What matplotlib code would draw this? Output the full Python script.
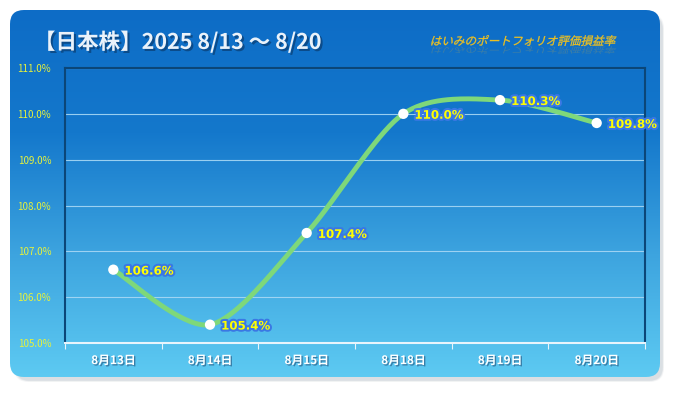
import matplotlib
matplotlib.use('Agg')
import matplotlib.pyplot as plt
import matplotlib.patheffects as pe
from matplotlib.patches import FancyBboxPatch, PathPatch
from matplotlib.textpath import TextPath
from matplotlib.font_manager import FontProperties
from matplotlib.transforms import Affine2D
from matplotlib.colors import LinearSegmentedColormap
import numpy as np

plt.rcParams['font.family'] = ['Noto Sans CJK JP', 'DejaVu Sans']

# Data
dates = ['8月13日', '8月14日', '8月15日', '8月18日', '8月19日', '8月20日']
values = [106.6, 105.4, 107.4, 110.0, 110.3, 109.8]
y_ticks = [105.0, 106.0, 107.0, 108.0, 109.0, 110.0, 111.0]
title = '【日本株】2025 8/13 ～ 8/20'
subtitle = 'はいみのポートフォリオ評価損益率'

W, H = 675, 393
fig = plt.figure(figsize=(W / 100, H / 100), dpi=100)
fig.patch.set_facecolor('white')

# Background panel (pixel coords via a full-figure axes)
bg = fig.add_axes([0, 0, 1, 1])
bg.set_xlim(0, W)
bg.set_ylim(H, 0)
bg.axis('off')

# soft shadow
for i, a in enumerate([0.05, 0.06, 0.08, 0.10]):
    sh = FancyBboxPatch((14 + i * 0.6, 14 + i * 0.6), 650 - i, 368 - i,
                        boxstyle='round,pad=0,rounding_size=14',
                        fc='#7a8a9a', ec='none', alpha=a)
    bg.add_patch(sh)

panel = FancyBboxPatch((10, 10), 650, 367, boxstyle='round,pad=0,rounding_size=14',
                       fc='none', ec='none')
bg.add_patch(panel)
grad = np.linspace(0, 1, 256).reshape(-1, 1)
cmap = LinearSegmentedColormap.from_list('bgc', ['#0D6CC6', '#1478CC', '#3DA4DF', '#5DCAF2'])
im = bg.imshow(grad, extent=(10, 660, 377, 10), cmap=cmap, aspect='auto', zorder=1)
im.set_clip_path(panel)

# Title
bg.text(34, 42, title, fontsize=15.5, fontweight='bold', color='#EAF2FA', va='center', ha='left', zorder=5,
        path_effects=[pe.withSimplePatchShadow(offset=(1.5, -1.5), shadow_rgbFace='#0A3D70', alpha=0.7)])

# Subtitle: italic (sheared) with a faded reflection below
fp = FontProperties(family='Noto Sans CJK JP')
tp = TextPath((0, 0), subtitle, size=11.6, prop=fp)
ext = tp.get_extents()
x0, base = 431, 45
tr = Affine2D().translate(-ext.x0, 0).skew_deg(14, 0).scale(1, -1).translate(x0, base) + bg.transData
bg.add_patch(PathPatch(tp, transform=tr, fc='#F2C21E', ec='#F2C21E', lw=0.2, zorder=6))
tr_ref = Affine2D().translate(-ext.x0, 0).skew_deg(-14, 0).scale(1, 0.7).translate(x0 + 2, base + 2) + bg.transData
bg.add_patch(PathPatch(tp, transform=tr_ref, fc='#E0B030', ec='none', alpha=0.22, zorder=5))

# Plot area
ax = fig.add_axes([65 / W, 1 - 343 / H, 580 / W, 275 / H])
ax.set_facecolor('none')
x = np.arange(len(values))
ax.set_xlim(-0.5, len(values) - 0.5)
ax.set_ylim(105, 111)

# grid
for yv in y_ticks[1:]:
    ax.axhline(yv, color='#A8D8F5', lw=0.8, alpha=0.9, zorder=1)

# smooth curve (Bezier through the points)
pts = np.column_stack([x, values]).astype(float)
P = np.vstack([pts[0], pts, pts[-1]])
curve = []
k = 1 / 7
for i in range(1, len(P) - 2):
    p0, p1, p2, p3 = P[i - 1], P[i], P[i + 1], P[i + 2]
    c1 = p1 + (p2 - p0) * k
    c2 = p2 - (p3 - p1) * k
    t = np.linspace(0, 1, 40)[:, None]
    seg = (1 - t) ** 3 * p1 + 3 * (1 - t) ** 2 * t * c1 + 3 * (1 - t) * t ** 2 * c2 + t ** 3 * p2
    curve.append(seg)
curve = np.vstack(curve)
ax.plot(curve[:, 0], curve[:, 1], color='#7ED87A', lw=3.5, solid_capstyle='round', zorder=3)
ax.scatter(x, values, s=55, color='white', zorder=4, edgecolors='none')

for xi, v in zip(x, values):
    ax.annotate(f'{v:.1f}%', (xi, v), xytext=(8, -1), textcoords='offset points',
                ha='left', va='center', fontsize=8.5, fontweight='bold', color='#FFFF00',
                family=['DejaVu Sans'], zorder=5,
                path_effects=[pe.withStroke(linewidth=3, foreground='#3A78E4')])

# axes styling
ax.set_yticks(y_ticks)
ax.set_yticklabels([f'{v:.1f}%' for v in y_ticks], fontsize=7, color='#E6F23C')
ax.tick_params(axis='y', length=0, pad=10)
ax.set_xticks(x)
ax.set_xticklabels(dates, fontsize=8.5, fontweight='bold', color='white')
for lab in ax.get_xticklabels():
    lab.set_path_effects([pe.withSimplePatchShadow(offset=(1, -1), shadow_rgbFace='#20507A', alpha=0.6)])
ax.set_xticks(np.arange(len(values) + 1) - 0.5, minor=True)
ax.tick_params(axis='x', which='major', length=0, pad=8)
ax.tick_params(axis='x', which='minor', length=4, color='#E8F4FC', width=0.8, direction='out')
for sp in ['left', 'top', 'right']:
    ax.spines[sp].set_color('#0B4678')
    ax.spines[sp].set_linewidth(1.5)
ax.spines['bottom'].set_color('#E8F4FC')
ax.spines['bottom'].set_linewidth(1.5)

fig.savefig('out.png', dpi=100, facecolor='white')
